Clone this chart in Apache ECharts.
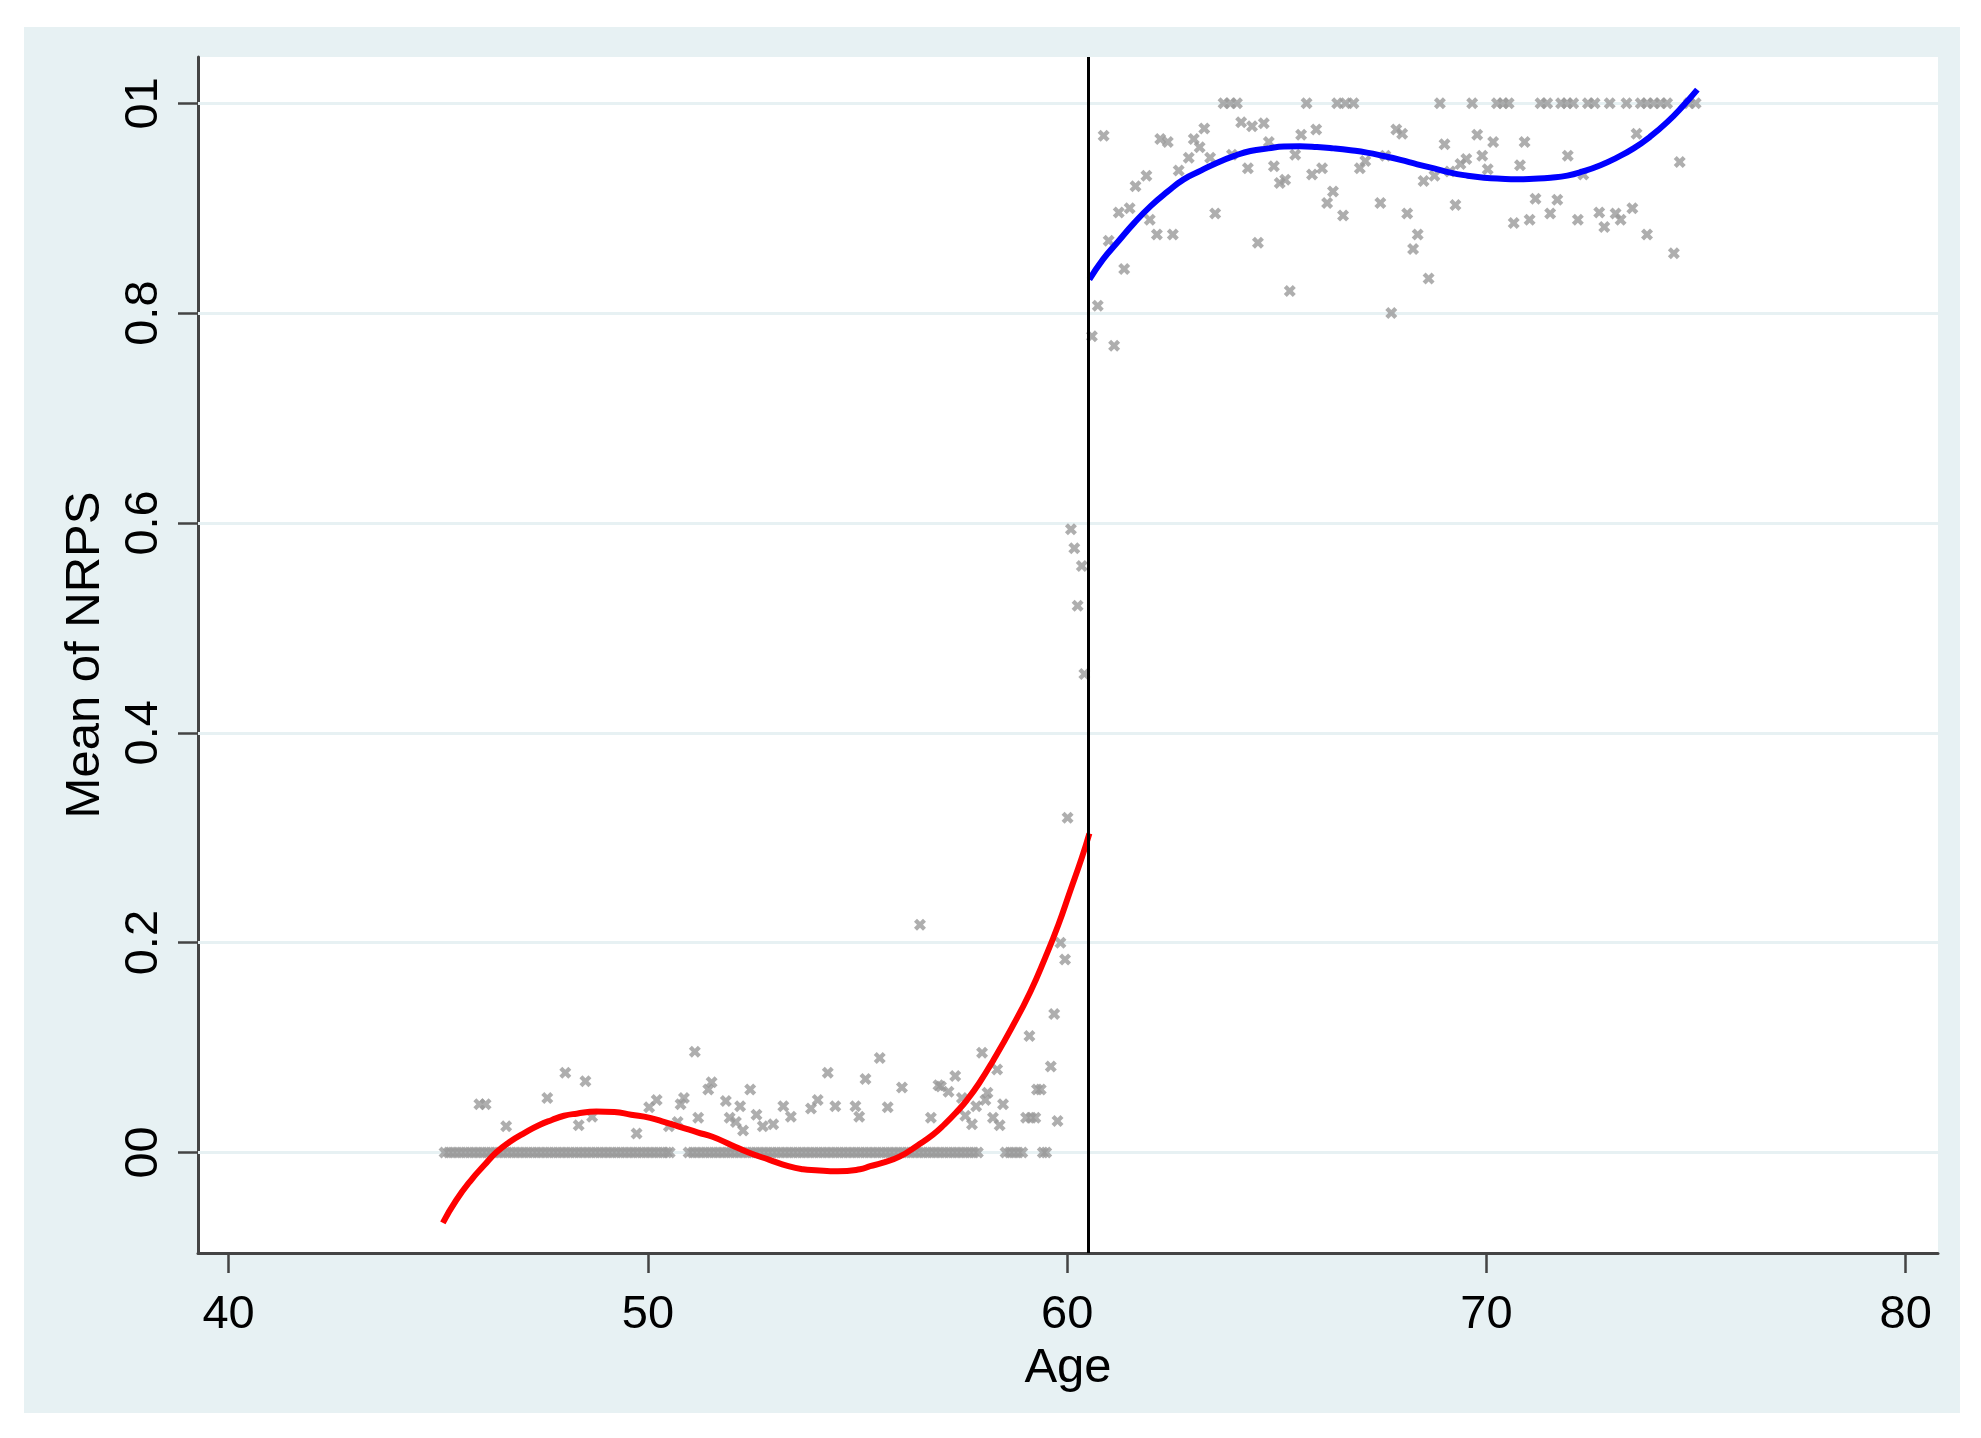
<!DOCTYPE html>
<html>
<head>
<meta charset="utf-8">
<script src="https://cdn.jsdelivr.net/npm/echarts@6/dist/echarts.min.js"></script>
<style>
html,body{margin:0;padding:0;background:#fff;}
#chart{width:1981px;height:1438px;}
</style>
</head>
<body>
<div id="chart"></div>
<script>
// ---- tick definitions ----
var xTicks = [40, 50, 60, 70, 80];
var yTicks = [0, 0.2, 0.4, 0.6, 0.8, 1];
var yTickLabels = ['00', '0.2', '0.4', '0.6', '0.8', '01'];
var cutoffAge = 60.5;

// ---- scatter: age bins with mean NRPS exactly 0 ----
var zeroAges = [
  45.15,45.25,45.35,45.45,45.55,45.65,45.75,45.85,45.95,46.05,46.15,46.25,46.35,46.45,46.55,46.65,46.75,46.85,46.95,
  47.05,47.15,47.25,47.35,47.45,47.55,47.65,47.75,47.85,47.95,48.05,48.15,48.25,48.35,48.45,48.55,48.65,48.75,48.85,48.95,
  49.05,49.15,49.25,49.35,49.45,49.55,49.65,49.75,49.85,49.95,50.05,50.15,50.25,50.35,50.45,50.52,
  50.97,51.07,51.17,51.27,51.37,51.47,51.57,51.67,51.77,51.87,51.97,52.07,52.17,52.27,52.37,52.47,52.57,52.67,52.77,52.87,52.97,
  53.07,53.17,53.27,53.37,53.47,53.57,53.67,53.77,53.87,53.97,54.07,54.17,54.27,54.37,54.47,54.57,54.67,54.77,54.87,54.97,
  55.07,55.17,55.27,55.37,55.47,55.57,55.67,55.77,55.87,55.97,56.07,56.17,56.27,56.37,56.47,56.57,56.67,56.77,56.87,56.97,
  57.07,57.17,57.27,57.37,57.47,57.57,57.67,57.77,57.87,
  58.53,58.63,58.73,58.83,58.93,
  59.42,59.50
];

// ---- scatter: below-cutoff bins with positive mean ----
var lowAges = [45.98,46.13,46.62,47.60,48.03,48.35,48.51,48.67,49.73,50.03,50.21,50.50,50.71,50.78,50.86,51.12,51.20,51.44,51.52,51.86,
  51.95,52.10,52.20,52.27,52.44,52.59,52.74,52.99,53.23,53.41,53.89,54.05,54.29,54.47,54.95,55.04,55.19,55.53,55.72,
  56.06,56.49,56.75,56.93,56.99,57.17,57.33,57.49,57.57,57.73,57.83,57.97,58.05,58.10,58.23,58.33,58.39,58.47,
  59.02,59.10,59.14,59.24,59.28,59.37,59.61,59.69,59.77,59.84,59.95,60.01,60.09,60.17,60.25,60.35,60.41];
var lowVals = [0.046,0.046,0.025,0.052,0.076,0.026,0.068,0.034,0.018,0.043,0.050,0.025,0.029,0.046,0.052,0.096,0.033,0.060,0.067,0.049,
  0.033,0.029,0.044,0.021,0.060,0.036,0.025,0.027,0.044,0.034,0.042,0.050,0.076,0.044,0.044,0.034,0.070,0.090,0.043,
  0.062,0.217,0.033,0.064,0.063,0.058,0.073,0.052,0.035,0.027,0.044,0.095,0.050,0.057,0.033,0.079,0.026,0.046,
  0.033,0.111,0.033,0.033,0.060,0.060,0.082,0.132,0.030,0.200,0.184,0.319,0.594,0.576,0.521,0.559,0.456];

// ---- scatter: above-cutoff bins ----
var upAges = [60.59,60.73,60.87,60.99,61.12,61.23,61.36,61.49,61.63,61.89,61.97,62.14,62.22,62.40,62.52,62.66,62.90,63.02,63.16,63.27,
  63.41,63.53,63.73,63.89,63.93,64.05,64.15,64.31,64.41,64.55,64.69,64.81,64.93,65.07,65.20,65.31,65.44,65.58,65.71,65.84,
  65.94,66.08,66.20,66.34,66.44,66.58,66.64,66.83,66.98,67.11,67.47,67.59,67.73,67.85,67.99,68.11,68.25,68.36,68.50,68.62,
  68.76,68.89,69.00,69.13,69.26,69.38,69.52,69.66,69.78,69.90,70.03,70.16,70.25,70.40,70.53,70.65,70.80,70.91,71.03,71.17,
  71.29,71.45,71.52,71.69,71.78,71.92,71.94,72.07,72.18,72.31,72.42,72.58,72.69,72.81,72.94,73.08,73.20,73.34,73.48,73.58,
  73.68,73.83,73.83,73.99,74.15,74.31,74.47,74.61,74.83,74.99];
var upVals = [0.778,0.807,0.969,0.869,0.769,0.896,0.842,0.900,0.921,0.931,0.889,0.875,0.966,0.963,0.875,0.936,0.948,0.966,0.958,0.976,
  0.948,0.895,1,1,0.951,1,0.982,0.938,0.978,0.867,0.981,0.963,0.940,0.924,0.927,0.821,0.951,0.970,1,0.932,
  0.975,0.938,0.905,0.916,1,0.893,1,1,0.938,0.945,0.905,0.950,0.800,0.975,0.971,0.895,0.861,0.875,0.926,0.833,
  0.931,1,0.961,0.935,0.903,0.942,0.947,1,0.970,0.950,0.937,0.963,1,1,1,0.886,0.941,0.963,0.889,0.909,
  1,1,0.895,0.908,1,1,0.950,1,0.889,0.932,1,1,0.896,0.882,1,0.895,0.889,1,0.900,0.971,
  1,1,0.875,1,1,1,0.857,0.944,1,1];

// ---- fitted polynomial curves ----
var redAges = [45.11,45.42,45.79,46.10,46.38,46.70,47.07,47.40,47.71,48.00,48.30,48.77,49.20,49.60,50.05,50.40,50.80,51.20,51.54,52.00,
  52.40,52.90,53.35,53.70,54.00,54.53,55.06,55.30,55.59,56.00,56.44,56.80,57.08,57.35,57.61,57.90,58.24,58.68,59.12,59.48,
  59.79,60.07,60.35,60.53];
var redVals = [-0.067,-0.046,-0.026,-0.012,0.000,0.010,0.019,0.026,0.031,0.035,0.037,0.039,0.0385,0.036,0.033,0.029,0.024,0.019,0.015,0.007,
  0.000,-0.007,-0.013,-0.016,-0.017,-0.018,-0.016,-0.013,-0.010,-0.004,0.007,0.017,0.027,0.038,0.050,0.066,0.088,0.119,0.153,0.186,
  0.217,0.249,0.281,0.304];
var blueAges = [60.53,60.85,61.19,61.60,61.99,62.40,62.78,63.20,63.58,64.00,64.37,64.80,65.17,65.55,65.96,66.35,66.76,67.15,67.55,67.95,
  68.35,68.75,69.14,69.55,69.94,70.35,70.73,71.13,71.53,71.93,72.30,72.72,73.10,73.51,73.90,74.31,74.70,75.03];
var blueVals = [0.832,0.851,0.867,0.886,0.902,0.916,0.9275,0.936,0.9434,0.950,0.9545,0.957,0.9587,0.959,0.9583,0.957,0.9552,0.953,0.9497,0.946,
  0.9418,0.938,0.9339,0.931,0.9291,0.928,0.9275,0.928,0.929,0.931,0.935,0.941,0.948,0.957,0.968,0.982,0.998,1.013];

function zip(a, b) { return a.map(function (v, i) { return [v, b[i]]; }); }

var FONT = 'Liberation Sans, Arial, Helvetica, sans-serif';
var XSYM = 'path://M0,3L3,0L6,3L9,0L12,3L9,6L12,9L9,12L6,9L3,12L0,9L3,6Z';
var GRID_COLOR = '#E7F1F3';
var AXIS_COLOR = '#444444';
var MARK_COLOR = '#9A9A9A';
var MSIZE = 12;

var chart = echarts.init(document.getElementById('chart'), null, {renderer: 'canvas'});
chart.setOption({
  backgroundColor: '#ffffff',
  animation: false,
  graphic: [{
    type: 'rect', z: -100, silent: true,
    shape: {x: 24, y: 27, width: 1936, height: 1386},
    style: {fill: GRID_COLOR}
  }],
  grid: {left: 198, top: 57, width: 1740, height: 1196, show: true, backgroundColor: '#ffffff', borderWidth: 0},
  xAxis: {
    type: 'value', min: 39.27, max: 80.77,
    splitLine: {show: false},
    axisLine: {onZero: false, lineStyle: {color: AXIS_COLOR, width: 3}},
    axisTick: {customValues: xTicks, length: 20, lineStyle: {color: AXIS_COLOR, width: 2.5}},
    axisLabel: {customValues: xTicks, fontSize: 47, color: '#000', margin: 39, fontFamily: FONT},
    name: 'Age', nameLocation: 'middle', nameGap: 87,
    nameTextStyle: {fontSize: 49, color: '#000', fontFamily: FONT}
  },
  yAxis: {
    type: 'value', min: -0.0958, max: 1.0441,
    splitLine: {show: false},
    axisLine: {onZero: false, lineStyle: {color: AXIS_COLOR, width: 3}},
    axisTick: {customValues: yTicks, length: 20, lineStyle: {color: AXIS_COLOR, width: 2.5}},
    axisLabel: {
      customValues: yTicks, rotate: 90, fontSize: 47, color: '#000', margin: 30, fontFamily: FONT,
      formatter: function (v) {
        for (var i = 0; i < yTicks.length; i++) { if (Math.abs(yTicks[i] - v) < 1e-6) return yTickLabels[i]; }
        return '';
      }
    },
    name: 'Mean of NRPS', nameLocation: 'middle', nameRotate: 90, nameGap: 88,
    nameTextStyle: {fontSize: 49, color: '#000', fontFamily: FONT}
  },
  series: [
    {
      type: 'scatter', name: 'zero', z: 2,
      data: zeroAges.map(function (a) { return [a, 0]; }),
      symbol: XSYM, symbolSize: MSIZE, itemStyle: {color: MARK_COLOR},
      markLine: {
        silent: true, symbol: ['none', 'none'], z: 1,
        label: {show: false},
        lineStyle: {color: GRID_COLOR, width: 3, type: 'solid'},
        data: yTicks.map(function (t) { return {yAxis: t}; })
      }
    },
    {type: 'scatter', name: 'low', z: 2, data: zip(lowAges, lowVals), symbol: XSYM, symbolSize: MSIZE, itemStyle: {color: MARK_COLOR}},
    {type: 'scatter', name: 'up', z: 2, data: zip(upAges, upVals), symbol: XSYM, symbolSize: MSIZE, itemStyle: {color: MARK_COLOR}},
    {
      type: 'line', name: 'fitLeft', z: 4, data: zip(redAges, redVals), smooth: 0.5, showSymbol: false,
      lineStyle: {color: '#FF0000', width: 6}
    },
    {
      type: 'line', name: 'fitRight', z: 4, data: zip(blueAges, blueVals), smooth: 0.5, showSymbol: false,
      lineStyle: {color: '#0000FF', width: 6},
      markLine: {
        silent: true, symbol: ['none', 'none'],
        label: {show: false},
        lineStyle: {color: '#000000', width: 3, type: 'solid'},
        data: [{xAxis: cutoffAge}]
      }
    }
  ]
});
</script>
</body>
</html>
